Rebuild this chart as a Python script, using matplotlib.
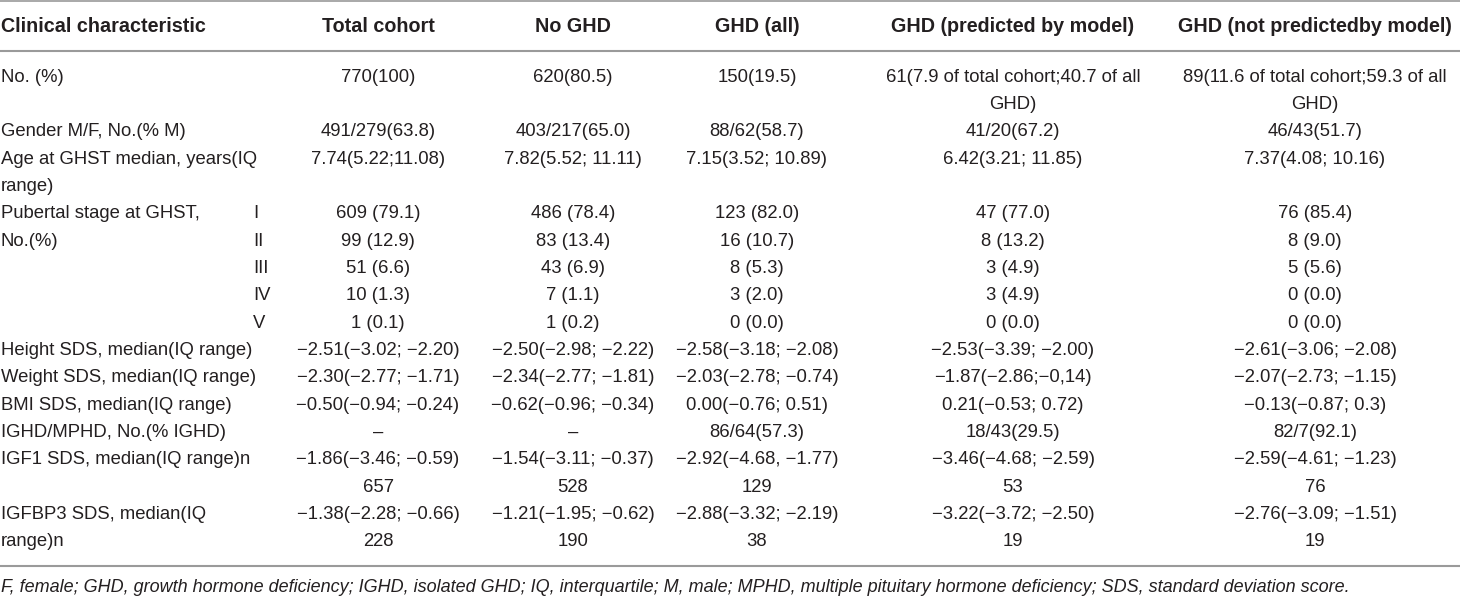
import matplotlib
matplotlib.use("Agg")
import matplotlib.pyplot as plt

plt.rcParams["font.family"] = ["Liberation Sans", "DejaVu Sans"]

TEXT = "#231f20"
RULE = "#9a9a9a"

headers = ["Total cohort", "No GHD", "GHD (all)",
           "GHD (predicted by model)", "GHD (not predictedby model)"]

row_labels = [
    "No. (%)",
    "Gender M/F, No.(% M)",
    "Age at GHST median, years(IQ\nrange)",
    "Pubertal stage at GHST,",
    "No.(%)",
    "", "", "",
    "Height SDS, median(IQ range)",
    "Weight SDS, median(IQ range)",
    "BMI SDS, median(IQ range)",
    "IGHD/MPHD, No.(% IGHD)",
    "IGF1 SDS, median(IQ range)n",
    "IGFBP3 SDS, median(IQ\nrange)n",
]
stages = ["", "", "", "I", "II", "III", "IV", "V", "", "", "", "", "", ""]

total_cohort = ["770(100)", "491/279(63.8)", "7.74(5.22;11.08)",
                "609 (79.1)", "99 (12.9)", "51 (6.6)", "10 (1.3)", "1 (0.1)",
                "−2.51(−3.02; −2.20)", "−2.30(−2.77; −1.71)",
                "−0.50(−0.94; −0.24)", "–",
                "−1.86(−3.46; −0.59)\n657", "−1.38(−2.28; −0.66)\n228"]
no_ghd = ["620(80.5)", "403/217(65.0)", "7.82(5.52; 11.11)",
          "486 (78.4)", "83 (13.4)", "43 (6.9)", "7 (1.1)", "1 (0.2)",
          "−2.50(−2.98; −2.22)", "−2.34(−2.77; −1.81)",
          "−0.62(−0.96; −0.34)", "–",
          "−1.54(−3.11; −0.37)\n528", "−1.21(−1.95; −0.62)\n190"]
ghd_all = ["150(19.5)", "88/62(58.7)", "7.15(3.52; 10.89)",
           "123 (82.0)", "16 (10.7)", "8 (5.3)", "3 (2.0)", "0 (0.0)",
           "−2.58(−3.18; −2.08)", "−2.03(−2.78; −0.74)",
           "0.00(−0.76; 0.51)", "86/64(57.3)",
           "−2.92(−4.68, −1.77)\n129", "−2.88(−3.32; −2.19)\n38"]
ghd_predicted = ["61(7.9 of total cohort;40.7 of all\nGHD)", "41/20(67.2)",
                 "6.42(3.21; 11.85)",
                 "47 (77.0)", "8 (13.2)", "3 (4.9)", "3 (4.9)", "0 (0.0)",
                 "−2.53(−3.39; −2.00)", "−1.87(−2.86;−0,14)",
                 "0.21(−0.53; 0.72)", "18/43(29.5)",
                 "−3.46(−4.68; −2.59)\n53", "−3.22(−3.72; −2.50)\n19"]
ghd_not_predicted = ["89(11.6 of total cohort;59.3 of all\nGHD)", "46/43(51.7)",
                     "7.37(4.08; 10.16)",
                     "76 (85.4)", "8 (9.0)", "5 (5.6)", "0 (0.0)", "0 (0.0)",
                     "−2.61(−3.06; −2.08)", "−2.07(−2.73; −1.15)",
                     "−0.13(−0.87; 0.3)", "82/7(92.1)",
                     "−2.59(−4.61; −1.23)\n76", "−2.76(−3.09; −1.51)\n19"]

footnote = ("F, female; GHD, growth hormone deficiency; IGHD, isolated GHD; "
            "IQ, interquartile; M, male; MPHD, multiple pituitary hormone "
            "deficiency; SDS, standard deviation score.")

columns = [total_cohort, no_ghd, ghd_all, ghd_predicted, ghd_not_predicted]

# layout (pixel space)
W, H = 1460, 597
col_x = [378, 573, 757, 1013, 1315]
stage_x = 253
FS = 13.3          # body
FS_HEAD = 14.2     # bold header
FS_NOTE = 13.0     # italic footnote
LH = 27.35
y_first = 77

fig = plt.figure(figsize=(W / 100, H / 100), dpi=100)
ax = fig.add_axes([0, 0, 1, 1])
ax.set_xlim(0, W)
ax.set_ylim(H, 0)
ax.axis("off")

# rules
ax.plot([0, W], [1, 1], color=RULE, lw=1.2)
ax.plot([0, W], [51, 51], color=RULE, lw=1.5)
ax.plot([0, W], [566, 566], color=RULE, lw=1.5)

# header
ax.text(1, 26, "Clinical characteristic", fontsize=FS_HEAD, fontweight="bold",
        color=TEXT, ha="left", va="center")
for x, h in zip(col_x, headers):
    ax.text(x, 26, h, fontsize=FS_HEAD, fontweight="bold", color=TEXT,
            ha="center", va="center")

# body
y = y_first
for i, lab in enumerate(row_labels):
    cells = [c[i] for c in columns]
    n = max([len(lab.split("\n"))] + [len(c.split("\n")) for c in cells])
    for k, line in enumerate(lab.split("\n")):
        ax.text(1, y + k * LH, line, fontsize=FS, color=TEXT,
                ha="left", va="center")
    if stages[i]:
        ax.text(stage_x, y, stages[i], fontsize=FS, color=TEXT,
                ha="left", va="center")
    for x, c in zip(col_x, cells):
        for k, line in enumerate(c.split("\n")):
            ax.text(x, y + k * LH, line, fontsize=FS, color=TEXT,
                    ha="center", va="center")
    y += n * LH

ax.text(1, 587, footnote, fontsize=FS_NOTE, fontstyle="italic", color=TEXT,
        ha="left", va="center")

fig.savefig("out.png", dpi=100)
